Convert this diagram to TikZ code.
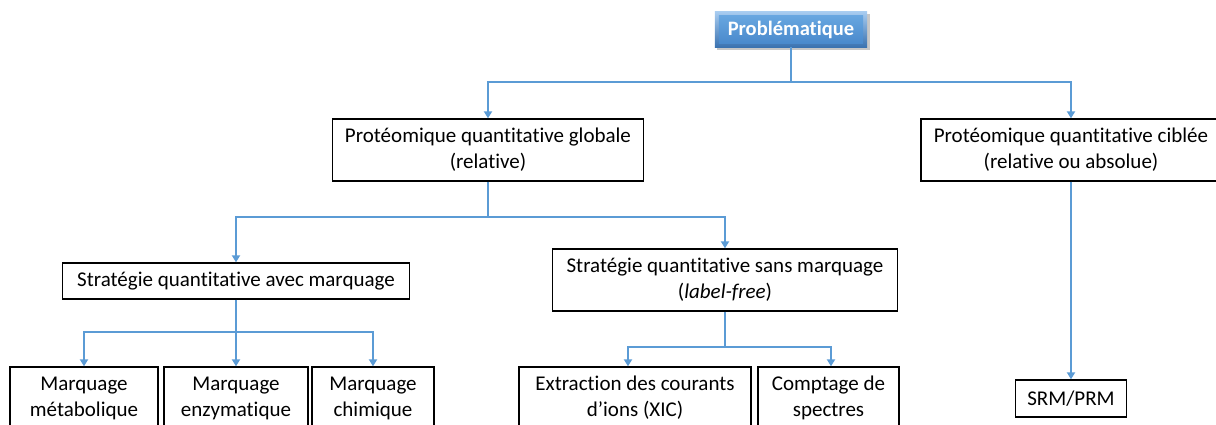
\documentclass[tikz,border=0pt]{standalone}
\usepackage{fontspec}
\setmainfont{Carlito}[RawFeature={-liga,-clig,-dlig,-calt}]
\usetikzlibrary{arrows.meta,backgrounds}
\definecolor{linkblue}{HTML}{5B9BD5}
\definecolor{bevtop}{HTML}{A8CCF0}
\definecolor{bevbot}{HTML}{3A72B0}
\definecolor{facetop}{HTML}{68A6E0}
\definecolor{facebot}{HTML}{4A8ACC}
\tikzset{
  box/.style={draw=black, line width=1.3pt, rectangle, inner sep=0pt, align=center,
    font=\fontsize{21}{26}\selectfont},
  headbox/.style={rectangle, inner sep=0pt, text=white,
    font=\fontsize{20.5}{24}\selectfont\bfseries},
  link/.style={draw=linkblue, line width=1.8pt},
  arr/.style={link, -{Triangle[width=8pt,length=7pt]}},
}
\begin{document}
\begin{tikzpicture}[x=1pt,y=-1pt]
\useasboundingbox (0,0) rectangle (1216,425);
\clip (0,0) rectangle (1216,425);

% root, with a bevelled blue face
\node[headbox, minimum width=152pt, minimum height=35pt] (prob) at (791,29.5) {Problématique};
\begin{scope}[on background layer]
  \fill[black, opacity=0.22] ([shift={(2pt,-2pt)}]prob.north west) rectangle ([shift={(2.5pt,-2.5pt)}]prob.south east);
  \shade[top color=bevtop, bottom color=bevbot] (prob.north west) rectangle (prob.south east);
  \shade[top color=facetop, bottom color=facebot]
    ([shift={(4pt,-4pt)}]prob.north west) rectangle ([shift={(-4pt,4pt)}]prob.south east);
\end{scope}

% second level
\node[box, minimum width=311pt, minimum height=62pt] (glob) at (488,150)
  {Protéomique quantitative globale\\(relative)};
\node[box, minimum width=300pt, minimum height=62pt] (cibl) at (1071,150)
  {Protéomique quantitative ciblée\\(relative ou absolue)};

% third level
\node[box, minimum width=347pt, minimum height=36pt] (avec) at (236,281)
  {Stratégie quantitative avec marquage};
\node[box, minimum width=345pt, minimum height=62pt] (sans) at (725,280)
  {Stratégie quantitative sans marquage\\(\textit{label-free})};

% leaves
\node[box, minimum width=148pt, minimum height=62pt] (meta) at (84,398)
  {Marquage\\métabolique};
\node[box, minimum width=144pt, minimum height=62pt] (enzy) at (236,398)
  {Marquage\\enzymatique};
\node[box, minimum width=122pt, minimum height=62pt] (chim) at (373,398)
  {Marquage\\chimique};
\node[box, minimum width=232pt, minimum height=62pt] (xic) at (635,398)
  {Extraction des courants\\d’ions (XIC)};
\node[box, minimum width=141pt, minimum height=62pt] (spec) at (828.5,398)
  {Comptage de\\spectres};
\node[box, minimum width=111pt, minimum height=37pt] (srm) at (1071,398.5)
  {SRM/PRM};

% junction points of the connector buses
\coordinate (j1) at (791,82);
\coordinate (j2) at (488,217);
\coordinate (j3) at (236,332);
\coordinate (j4) at (725,347);

% connectors
\draw[link] (prob.south) -- (j1);
\draw[arr] (j1) -| (glob.north);
\draw[arr] (j1) -| (cibl.north);

\draw[link] (glob.south) -- (j2);
\draw[arr] (j2) -| (avec.north);
\draw[arr] (j2) -| (sans.north);

\draw[link] (avec.south) -- (j3);
\draw[arr] (j3) -| (meta.north);
\draw[arr] (j3) -- (enzy.north);
\draw[arr] (j3) -| (chim.north);

\draw[link] (sans.south) -- (j4);
\draw[arr] (j4) -| ([xshift=-7pt]xic.north);
\draw[arr] (j4) -| ([xshift=2.5pt]spec.north);

\draw[arr] (cibl.south) -- (srm.north);
\end{tikzpicture}
\end{document}
